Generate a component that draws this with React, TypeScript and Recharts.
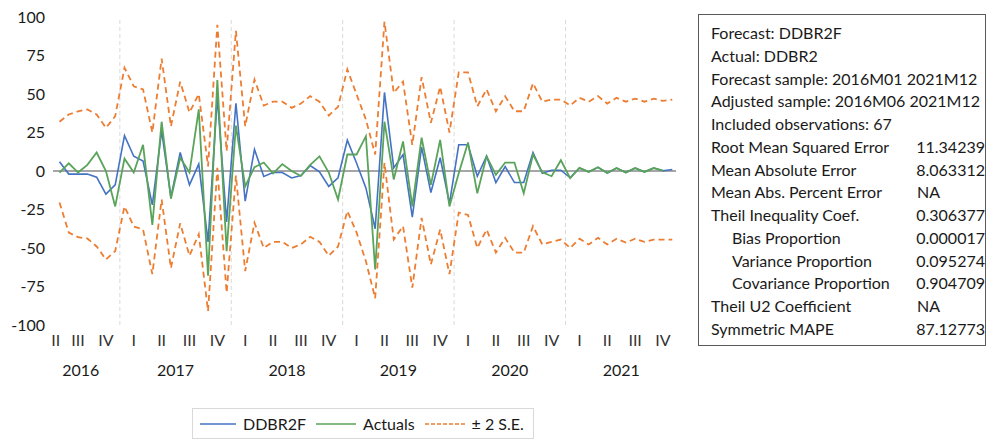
import { LineChart, Line, XAxis, YAxis, ReferenceLine } from 'recharts'

// monthly observations 2016M06 .. 2021M12 (67 points)
const forecast = [
  6, -2, -2, -2, -4, -15, -9,
  23, 9.6, 6.4, -22, 26, -17, 12, -9, 4.5, -46, 48, -33,
  44, -19.6, 14, -3.5, -1, -1, -4.5, -3, 3.5, -0.5, -10, -4.4,
  20, 5, -11, -37.5, 51, 2, 10.7, -30, 15.5, -14, 8.6, -21,
  17, 17, -3.4, 9.6, -7.5, 2.8, -7.5, -7.5, 12, -1.5, 0.5, 0.5,
  -4.4, 2, -0.6, 2.4, -1.3, 1.9, -1, 1.9, -0.6, 1.9, 0.2, 1,
]

const actuals = [
  -1, 5, -1, 4, 12, 0, -23,
  8, -1, 17, -35, 32, -18, 8.6, -1, 40, -68, 59, -52,
  29.5, -10, 2.5, 5.5, -1.5, 4.5, 0, -3.2, 4, 9.5, -1, -18.5,
  10.7, 10.7, 22.6, -64, 32, -5.5, 19.2, -23, 21.6, -9, 20.2, -23,
  -1.5, 18.5, -14.5, 9.6, -2.5, 5.5, 5.5, -14.5, 10.7, -0.9, -3.4, 7,
  -4.6, 2, -0.6, 2.4, -1.3, 1.9, -1, 1.9, -0.6, 1.9, 0.2, null,
]

const upperBand = [
  32, 36.7, 38.8, 40, 36.7, 28, 35.6,
  67, 55, 53, 25, 73, 29, 58, 38, 50, 3, 95, 13,
  91, 29, 59.4, 42.5, 45, 45, 41, 43.8, 48.6, 45, 36, 41.7,
  66, 49.7, 33.4, 10.7, 97, 50.8, 58, 17, 61, 31.3, 54.7, 25,
  64, 64, 42, 53, 38.8, 48.6, 38.8, 38.8, 57, 45, 46.4, 46.4,
  42.5, 47.5, 45, 48.6, 43.8, 47.5, 45, 47, 45, 47, 45.5, 46.4,
]

const lowerBand = [
  -20.5, -40, -43, -43.8, -49, -57.5, -52,
  -23, -36, -38, -67, -18.5, -63, -34, -55, -41, -91, 2, -79,
  -3, -65, -33.6, -50, -46, -46, -50, -47.7, -42.7, -46, -55, -49,
  -26, -40, -58.6, -82.6, 5.3, -44.5, -35.8, -75.8, -30.4, -60.7, -38, -67,
  -27, -28.5, -50, -38, -53, -43.4, -53, -53, -35.8, -47.7, -46, -44.5,
  -50, -44, -47.7, -43.4, -47.7, -44, -46.5, -44, -46, -44.5, -44.5, -44.5,
]

const yTicks = [100, 75, 50, 25, 0, -25, -50, -75, -100]

const quarterTicks = [
  -0.4, 2, 5,
  8, 11, 14, 17,
  20, 23, 26, 29,
  32, 35, 38, 41,
  44, 47, 50, 53,
  56, 59, 62, 65,
]
const quarterLabels = [
  'II', 'III', 'IV',
  'I', 'II', 'III', 'IV',
  'I', 'II', 'III', 'IV',
  'I', 'II', 'III', 'IV',
  'I', 'II', 'III', 'IV',
  'I', 'II', 'III', 'IV',
]

const yearTicks = [2.3, 12.5, 24.5, 36.5, 48.5, 60.5]
const yearLabels = ['2016', '2017', '2018', '2019', '2020', '2021']
const yearBreaks = [6.5, 18.5, 30.5, 42.5, 54.5]

const headerLines = [
  'Forecast: DDBR2F',
  'Actual: DDBR2',
  'Forecast sample: 2016M01 2021M12',
  'Adjusted sample: 2016M06 2021M12',
  'Included observations: 67',
]
const statLabels = [
  'Root Mean Squared Error',
  'Mean Absolute Error',
  'Mean Abs. Percent Error',
  'Theil Inequality Coef.',
  'Bias Proportion',
  'Variance Proportion',
  'Covariance Proportion',
  'Theil U2 Coefficient',
  'Symmetric MAPE',
]
const statValues = [
  '11.34239', '8.063312', 'NA', '0.306377', '0.000017',
  '0.095274', '0.904709', 'NA', '87.12773',
]
const indentedStats = ['Bias Proportion', 'Variance Proportion', 'Covariance Proportion']

const BLUE = '#4472C4'
const GREEN = '#5AA35A'
const ORANGE = '#ED7D31'
const FONT = 'Lato, "Open Sans", sans-serif'

const data = forecast.map((f, i) => ({
  t: i,
  forecast: f,
  actual: actuals[i],
  upper: upperBand[i],
  lower: lowerBand[i],
}))

function LegendItem({ color, dashed, label, lineWidth }: { color: string; dashed?: boolean; label: string; lineWidth: number }) {
  return (
    <div style={{ display: 'flex', alignItems: 'center', marginRight: 10, flexShrink: 0 }}>
      <svg width={lineWidth} height={4} style={{ marginRight: 7 }}>
        <line x1={0} y1={2} x2={lineWidth} y2={2} stroke={color} strokeWidth={1.5} strokeDasharray={dashed ? '4 2' : undefined} />
      </svg>
      <span>{label}</span>
    </div>
  )
}

export default function App() {
  return (
    <div style={{ position: 'relative', width: 988, height: 441, background: '#fff', fontFamily: FONT, color: '#1a1a1a' }}>
      <style>{'body{margin:0}'}</style>
      <div style={{ position: 'absolute', left: 0, top: 0 }}>
        <LineChart width={690} height={390} data={data} margin={{ top: 17, right: 14, bottom: 5, left: 0 }}>
          <XAxis
            xAxisId="q"
            dataKey="t"
            type="number"
            domain={[-0.7, 66.4]}
            allowDataOverflow
            ticks={quarterTicks}
            tickFormatter={(v: number) => quarterLabels[quarterTicks.indexOf(v)] ?? ''}
            interval={0}
            axisLine={false}
            tickLine={false}
            tickSize={0}
            tickMargin={10}
            height={30}
            tick={{ fill: '#333', fontSize: 16, fontFamily: FONT }}
          />
          <XAxis
            xAxisId="y"
            dataKey="t"
            type="number"
            domain={[-0.7, 66.4]}
            allowDataOverflow
            ticks={yearTicks}
            tickFormatter={(v: number) => yearLabels[yearTicks.indexOf(v)] ?? ''}
            interval={0}
            axisLine={false}
            tickLine={false}
            tickSize={0}
            tickMargin={10}
            height={30}
            tick={{ fill: '#1a1a1a', fontSize: 16, fontFamily: FONT }}
          />
          <YAxis
            domain={[-100, 100]}
            ticks={yTicks}
            interval={0}
            axisLine={false}
            tickLine={false}
            tickSize={0}
            tickMargin={8}
            width={53}
            tick={{ fill: '#1a1a1a', fontSize: 16, fontFamily: FONT }}
          />
          {yearBreaks.map((x) => (
            <ReferenceLine key={x} xAxisId="q" x={x} stroke="#d9d9d9" strokeDasharray="4 3" />
          ))}
          <ReferenceLine xAxisId="q" y={0} stroke="#a6a6a6" strokeWidth={2} />
          <Line xAxisId="q" dataKey="forecast" stroke={BLUE} strokeWidth={1.6} dot={false} isAnimationActive={false} />
          <Line xAxisId="q" dataKey="actual" stroke={GREEN} strokeWidth={1.8} dot={false} isAnimationActive={false} />
          <Line xAxisId="q" dataKey="upper" stroke={ORANGE} strokeWidth={1.8} strokeDasharray="6 4" dot={false} isAnimationActive={false} />
          <Line xAxisId="q" dataKey="lower" stroke={ORANGE} strokeWidth={1.8} strokeDasharray="6 4" dot={false} isAnimationActive={false} />
        </LineChart>
      </div>

      <div
        style={{
          position: 'absolute',
          left: 192,
          top: 408,
          width: 342,
          height: 31,
          boxSizing: 'border-box',
          border: '1px solid #d9d9d9',
          display: 'flex',
          alignItems: 'center',
          paddingLeft: 7,
          fontSize: 16,
          whiteSpace: 'nowrap',
          overflow: 'visible',
        }}
      >
        <LegendItem color={BLUE} label="DDBR2F" lineWidth={36} />
        <LegendItem color={GREEN} label="Actuals" lineWidth={40} />
        <LegendItem color={ORANGE} label="± 2 S.E." lineWidth={40} dashed />
      </div>

      <div
        style={{
          position: 'absolute',
          left: 698,
          top: 14,
          width: 288,
          height: 332,
          boxSizing: 'border-box',
          border: '1px solid #595959',
          padding: '7px 0 0 12px',
          fontSize: 16,
          lineHeight: '22.75px',
          whiteSpace: 'nowrap',
        }}
      >
        {headerLines.map((l) => (
          <div key={l}>{l}</div>
        ))}
        {statLabels.map((l, i) => (
          <div key={l} style={{ display: 'flex' }}>
            <span style={{ width: 206, paddingLeft: indentedStats.includes(l) ? 21 : 0, boxSizing: 'border-box' }}>{l}</span>
            <span>{statValues[i]}</span>
          </div>
        ))}
      </div>
    </div>
  )
}
